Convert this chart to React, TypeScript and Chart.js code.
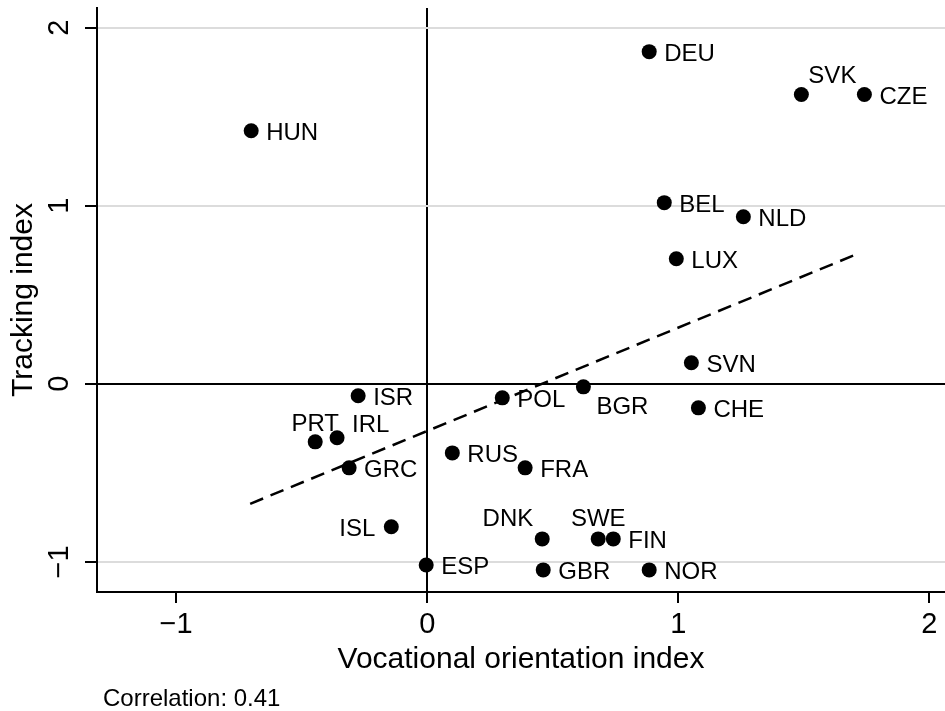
import { useEffect, useRef } from 'react';
import { Chart, registerables } from 'chart.js';

Chart.register(...registerables);

const countries = ['HUN', 'DEU', 'SVK', 'CZE', 'BEL', 'NLD', 'LUX', 'SVN', 'CHE', 'BGR', 'POL', 'ISR', 'IRL', 'PRT', 'GRC', 'RUS', 'FRA', 'ISL', 'DNK', 'SWE', 'FIN', 'ESP', 'GBR', 'NOR'];
const vocational = [-0.701, 0.884, 1.49, 1.741, 0.944, 1.259, 0.992, 1.052, 1.08, 0.622, 0.299, -0.275, -0.359, -0.446, -0.311, 0.1, 0.39, -0.143, 0.458, 0.681, 0.741, -0.004, 0.462, 0.884];
const tracking = [1.421, 1.865, 1.624, 1.624, 1.017, 0.938, 0.702, 0.118, -0.135, -0.017, -0.079, -0.067, -0.303, -0.326, -0.472, -0.388, -0.472, -0.803, -0.871, -0.871, -0.871, -1.017, -1.045, -1.045];
const fitX = [-0.705, 1.725];
const fitY = [-0.674, 0.736];
const xTicks = [-1, 0, 1, 2];
const yTicks = [-1, 0, 1, 2];
const xRange = [-1.315, 2.062];
const yRange = [-1.169, 2.11];
const xTitle = 'Vocational orientation index';
const yTitle = 'Tracking index';
const noteText = 'Correlation: 0.41';

// label placement (style only): [align, dx, dy]
const labelStyle: Record<string, [CanvasTextAlign, number, number]> = {
  SVK: ['left', 7, -12],
  PRT: ['center', 0, -11],
  IRL: ['left', 15, -6],
  DNK: ['right', -9, -13],
  SWE: ['center', 0, -13],
  BGR: ['left', 13, 27],
  ISL: ['right', -16, 9],
};

const FONT = '"Liberation Sans", Arial, Helvetica, sans-serif';
const fmt = (v: number) => (v < 0 ? '\u2212' + Math.abs(v) : String(v));

export default function App() {
  const ref = useRef<HTMLCanvasElement | null>(null);
  useEffect(() => {
    if (!ref.current) return;
    const textPlugin = {
      id: 'textPlugin',
      afterDatasetsDraw(chart: any) {
        const ctx = chart.ctx as CanvasRenderingContext2D;
        const meta = chart.getDatasetMeta(1);
        ctx.save();
        ctx.fillStyle = '#000';
        ctx.font = `24px ${FONT}`;
        ctx.textBaseline = 'alphabetic';
        meta.data.forEach((el: any, i: number) => {
          const { x, y } = el.getProps(['x', 'y'], true);
          const st = labelStyle[countries[i]] || ['left', 15, 9];
          ctx.textAlign = st[0];
          ctx.fillText(countries[i], x + st[1], y + st[2]);
        });
        ctx.restore();
      },
      afterDraw(chart: any) {
        const ctx = chart.ctx as CanvasRenderingContext2D;
        const ys = chart.scales.y;
        const xs = chart.scales.x;
        const area = chart.chartArea;
        ctx.save();
        ctx.fillStyle = '#000';
        ctx.textBaseline = 'alphabetic';
        ctx.font = `29px ${FONT}`;
        // y tick labels (rotated)
        yTicks.forEach((v) => {
          const py = ys.getPixelForValue(v);
          ctx.save();
          ctx.translate(68, py);
          ctx.rotate(-Math.PI / 2);
          ctx.textAlign = 'center';
          ctx.fillText(fmt(v), 0, 0);
          ctx.restore();
        });
        // x tick labels
        ctx.textAlign = 'center';
        xTicks.forEach((v) => {
          ctx.fillText(fmt(v), xs.getPixelForValue(v), 633);
        });
        // y title
        ctx.font = `30px ${FONT}`;
        ctx.save();
        ctx.translate(32, (area.top + area.bottom) / 2);
        ctx.rotate(-Math.PI / 2);
        ctx.textAlign = 'center';
        ctx.fillText(yTitle, 0, 0);
        ctx.restore();
        // x title
        ctx.textAlign = 'center';
        ctx.fillText(xTitle, (area.left + area.right) / 2, 668);
        // note
        ctx.font = `24px ${FONT}`;
        ctx.textAlign = 'left';
        ctx.fillText(noteText, 103, 706);
        ctx.restore();
      },
    };

    const chart = new Chart(ref.current, {
      type: 'scatter',
      data: {
        datasets: [
          {
            type: 'line',
            data: fitX.map((x, i) => ({ x, y: fitY[i] })),
            borderColor: '#000',
            borderWidth: 2.5,
            borderDash: [14, 8],
            pointRadius: 0,
            fill: false,
          } as any,
          {
            type: 'scatter',
            data: vocational.map((x, i) => ({ x, y: tracking[i] })),
            backgroundColor: '#000',
            borderWidth: 0,
            pointRadius: 7.5,
            pointHoverRadius: 7.5,
          },
        ],
      },
      options: {
        responsive: false,
        animation: false,
        events: [],
        layout: { autoPadding: false, padding: { top: 8, right: 0, left: 0, bottom: 0 } },
        plugins: { legend: { display: false }, tooltip: { enabled: false } },
        scales: {
          x: {
            type: 'linear',
            min: xRange[0],
            max: xRange[1],
            afterBuildTicks: (s: any) => {
              s.ticks = xTicks.map((v) => ({ value: v }));
            },
            afterFit: (s: any) => {
              s.height = 119;
            },
            ticks: { display: false },
            grid: {
              color: (c: any) => (c.tick && c.tick.value === 0 ? '#000' : 'rgba(0,0,0,0)'),
              lineWidth: 2,
              tickColor: '#000',
              tickLength: 11,
              tickWidth: 2,
            },
            border: { display: true, color: '#000', width: 2 },
          },
          y: {
            type: 'linear',
            min: yRange[0],
            max: yRange[1],
            afterBuildTicks: (s: any) => {
              s.ticks = yTicks.map((v) => ({ value: v }));
            },
            afterFit: (s: any) => {
              s.width = 97;
            },
            ticks: { display: false },
            grid: {
              color: (c: any) => (c.tick && c.tick.value === 0 ? '#000' : '#dcdcdc'),
              lineWidth: 2,
              tickColor: '#000',
              tickLength: 12,
              tickWidth: 2,
            },
            border: { display: true, color: '#000', width: 2 },
          },
        },
      },
      plugins: [textPlugin],
    });
    return () => chart.destroy();
  }, []);

  return (
    <div style={{ position: 'absolute', left: 0, top: 0, width: 945, height: 711, background: '#fff' }}>
      <canvas ref={ref} width={945} height={711} style={{ display: 'block' }} />
    </div>
  );
}
